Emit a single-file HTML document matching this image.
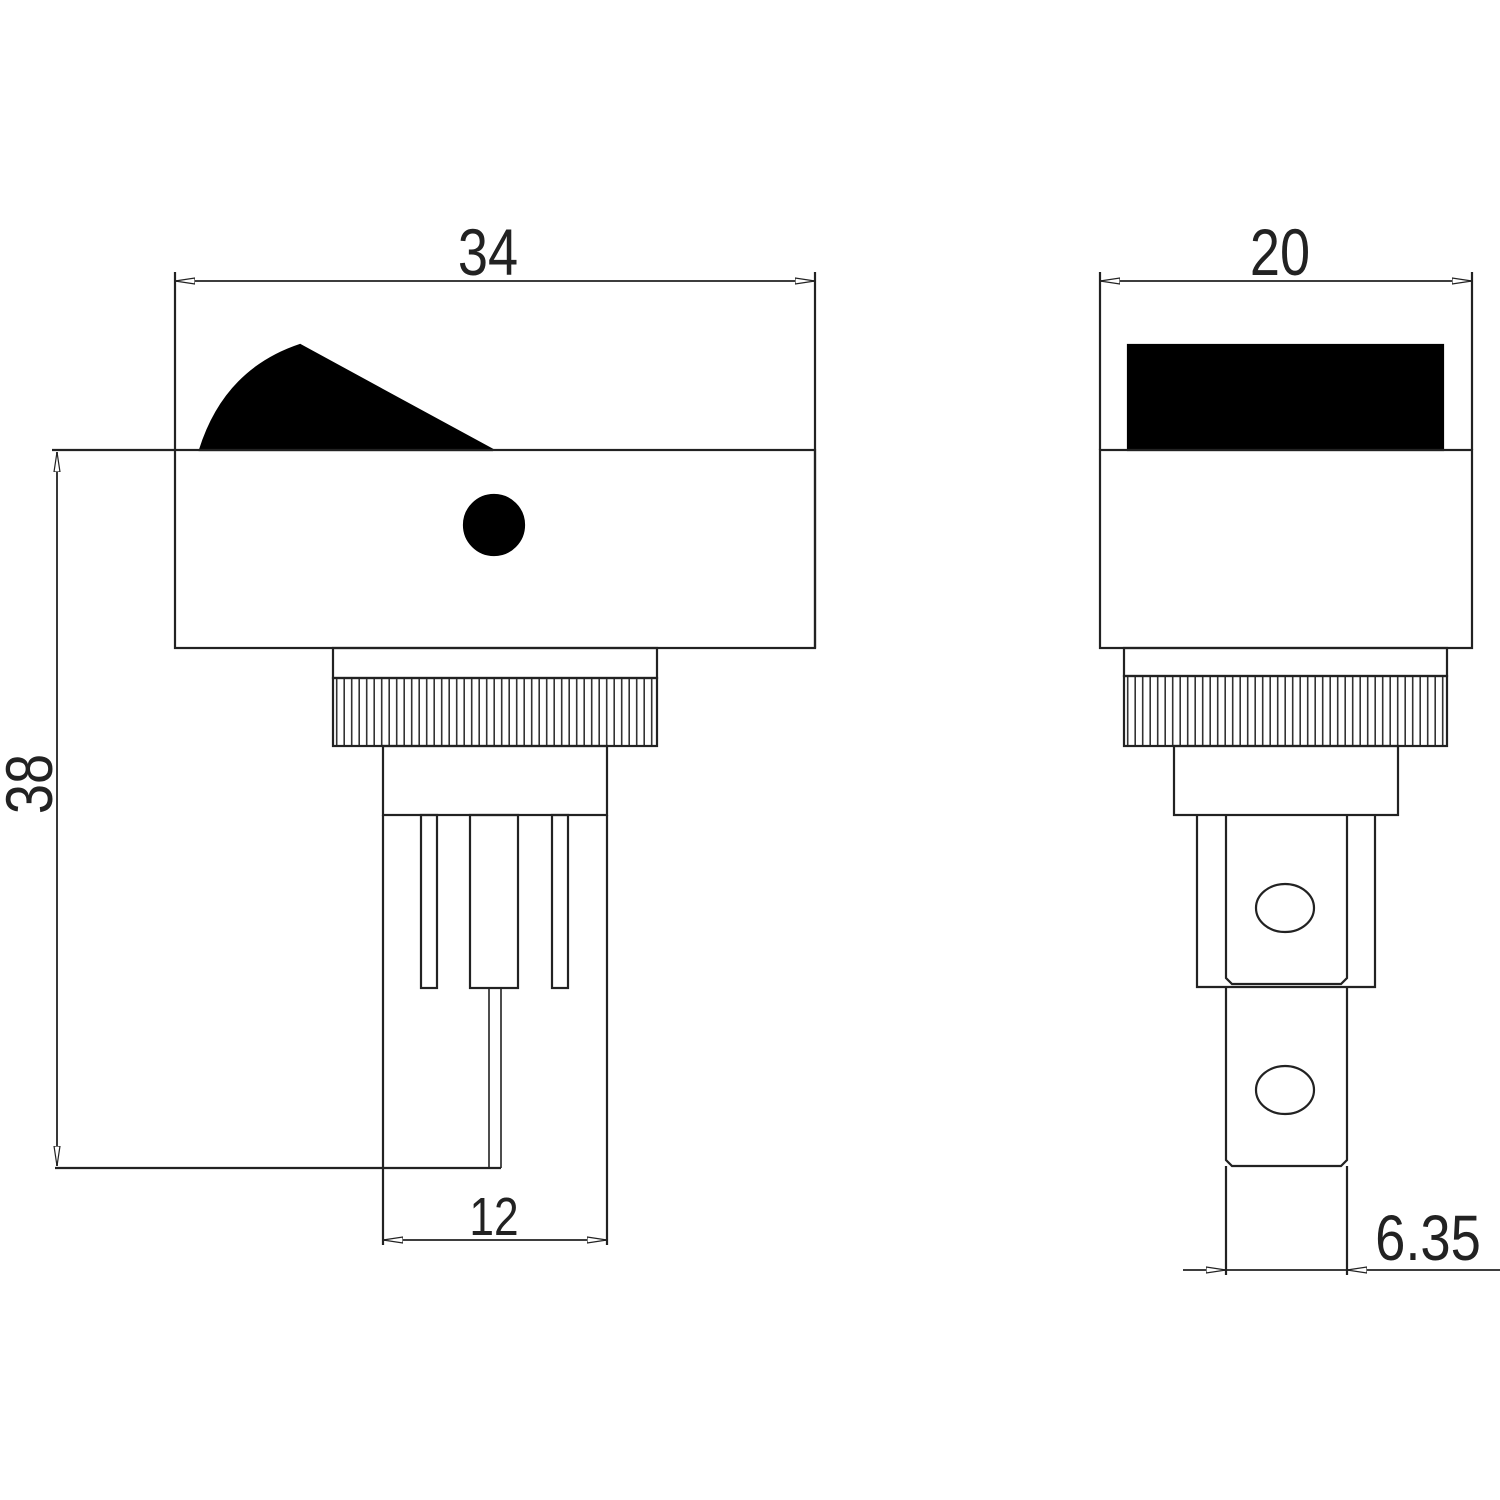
<!DOCTYPE html>
<html><head><meta charset="utf-8"><style>html,body{margin:0;padding:0;background:#fff}svg{display:block}</style></head>
<body>
<svg width="1500" height="1500" viewBox="0 0 1500 1500" xmlns="http://www.w3.org/2000/svg">
<defs>
<pattern id="kn" x="333" y="0" width="7.5" height="100" patternUnits="userSpaceOnUse">
<line x1="3.7" y1="0" x2="3.7" y2="100" stroke="#333" stroke-width="1.6"/>
</pattern>
<pattern id="kn2" x="1124" y="0" width="7.5" height="100" patternUnits="userSpaceOnUse">
<line x1="3.7" y1="0" x2="3.7" y2="100" stroke="#333" stroke-width="1.6"/>
</pattern>
<marker id="ar" viewBox="0 0 20 8" refX="20" refY="4" markerWidth="20" markerHeight="8" markerUnits="userSpaceOnUse" orient="auto-start-reverse">
<path d="M0,1 L20,4 L0,7 z" fill="#fff" stroke="#222" stroke-width="1.2"/>
</marker>
</defs>
<g fill="none" stroke="#222" stroke-width="2.2">
<!-- LEFT VIEW -->
<line x1="175" y1="272" x2="175" y2="450"/>
<line x1="815" y1="272" x2="815" y2="648"/>
<line x1="175" y1="281" x2="815" y2="281" stroke-width="1.8" marker-start="url(#ar)" marker-end="url(#ar)"/>
<path d="M200,450 Q225,370 300,345 L493,450 Z" fill="#000" stroke="#000"/>
<rect x="175" y="450" width="640" height="198"/>
<line x1="52" y1="450" x2="175" y2="450"/>
<circle cx="494" cy="525" r="30" fill="#000" stroke="#000"/>
<rect x="333" y="648" width="324" height="30"/>
<rect x="333" y="678" width="324" height="68" fill="url(#kn)"/>
<rect x="383" y="746" width="224" height="69"/>
<line x1="383" y1="815" x2="383" y2="1245"/>
<line x1="607" y1="815" x2="607" y2="1245"/>
<rect x="421" y="815" width="16" height="173"/>
<rect x="470" y="815" width="48" height="173"/>
<rect x="552" y="815" width="16" height="173"/>
<line x1="489" y1="988" x2="489" y2="1168" stroke-width="1.6"/>
<line x1="501" y1="988" x2="501" y2="1168" stroke-width="1.6"/>
<line x1="55" y1="1168" x2="501" y2="1168"/>
<line x1="57" y1="452" x2="57" y2="1166" stroke-width="1.8" marker-start="url(#ar)" marker-end="url(#ar)"/>
<line x1="383" y1="1240" x2="607" y2="1240" stroke-width="1.8" marker-start="url(#ar)" marker-end="url(#ar)"/>
<!-- RIGHT VIEW -->
<line x1="1100" y1="272" x2="1100" y2="450"/>
<line x1="1472" y1="272" x2="1472" y2="450"/>
<line x1="1100" y1="281" x2="1472" y2="281" stroke-width="1.8" marker-start="url(#ar)" marker-end="url(#ar)"/>
<rect x="1128" y="345" width="315" height="105" fill="#000" stroke="#000"/>
<rect x="1100" y="450" width="372" height="198"/>
<rect x="1124" y="648" width="323" height="28"/>
<rect x="1124" y="676" width="323" height="70" fill="url(#kn2)"/>
<rect x="1174" y="746" width="224" height="69"/>
<path d="M1197,815 V987 H1375 V815"/>
<path d="M1226,815 V978 L1232,984 H1341 L1347,978 V815"/>
<path d="M1226,987 V1160 L1232,1166 H1341 L1347,1160 V987"/>
<line x1="1226" y1="1166" x2="1226" y2="1275"/>
<line x1="1347" y1="1166" x2="1347" y2="1275"/>
<ellipse cx="1285" cy="908" rx="29" ry="24"/>
<ellipse cx="1285" cy="1090" rx="29" ry="24"/>
<line x1="1183" y1="1270" x2="1226" y2="1270" stroke-width="1.8" marker-end="url(#ar)"/>
<line x1="1500" y1="1270" x2="1347" y2="1270" stroke-width="1.8" marker-end="url(#ar)"/>
<line x1="1226" y1="1270" x2="1347" y2="1270" stroke-width="1.8"/>
</g>
<g font-family="Liberation Sans, sans-serif" font-size="66" fill="#222" text-anchor="middle">
<text x="488" y="275" transform="translate(488 0) scale(0.82 1) translate(-488 0)">34</text>
<text x="1280" y="275" transform="translate(1280 0) scale(0.82 1) translate(-1280 0)">20</text>
<text x="494" y="1235" font-size="54" transform="translate(494 0) scale(0.82 1) translate(-494 0)">12</text>
<text x="1428" y="1260" font-size="64" transform="translate(1428 0) scale(0.85 1) translate(-1428 0)">6.35</text>
<text x="0" y="0" transform="translate(52 784) rotate(-90) scale(0.82 1)">38</text>
</g>
</svg>
</body></html>
